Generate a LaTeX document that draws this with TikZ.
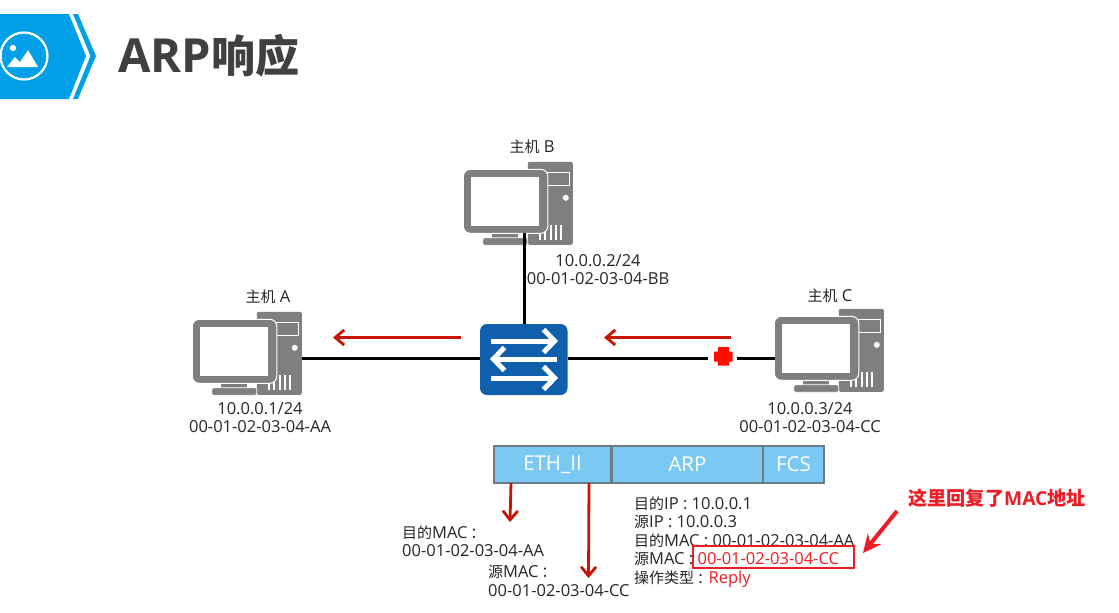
\documentclass[tikz,border=0pt]{standalone}
\usepackage{fontspec}
\setmainfont{Open Sans}
\newfontfamily\cjk{Noto Sans CJK SC}
\usetikzlibrary{arrows.meta}
\newcommand{\zh}[1]{{\fontsize{15}{18.5}\selectfont\cjk #1}}
\definecolor{pcgray}{HTML}{7F7F7F}
\definecolor{headblue}{HTML}{00A0E9}
\definecolor{swblue}{HTML}{0F5FAD}
\definecolor{flowred}{HTML}{C81400}
\definecolor{notered}{HTML}{EE1C25}
\definecolor{barblue}{HTML}{7AC9F2}
\definecolor{bargray}{HTML}{6E7A84}
\tikzset{
  x=1pt,y=-1pt,
  txt/.style={inner sep=0pt,font=\fontsize{16.5}{18.5}\selectfont,text=black!85},
  hostname/.style={inner sep=0pt,font=\fontsize{16.5}{18}\selectfont,text=black!85},
  hostbox/.style={inner sep=0pt,minimum width=109pt,minimum height=83pt},
  link/.style={draw=black,line width=3pt},
  flow/.style={draw=flowred,line width=2.8pt,-{Straight Barb[length=9pt,width=15pt,line width=2.8pt]}},
  swarrow/.style={draw=white,line width=5pt,-{Straight Barb[length=11pt,width=23pt,line width=5pt]}},
  field/.style={draw=bargray,line width=2pt,fill=barblue,inner sep=0pt,minimum height=37pt,
                text=white,font=\fontsize{20.5}{24}\selectfont},
  pcicon/.pic={
    \fill[pcgray,rounded corners=2pt] (64,0) rectangle (109,83);
    \draw[white,line width=1pt] (84,11) rectangle (106,24);
    \fill[white] (102,36) circle (3);
    \foreach \vx/\vy in {76/70,81/68,87/63,92/63,97/63}
      \draw[white,line width=1.5pt] (\vx,\vy) -- (\vx,78);
    \fill[pcgray] (28,70) rectangle (54,77);
    \fill[pcgray,draw=white,line width=.7pt,rounded corners=1.5pt] (19,76) rectangle (64,83.5);
    \draw[white,line width=1pt,fill=pcgray,rounded corners=7pt] (-.5,7.5) rectangle (84,71.5);
    \fill[white] (7,15) rectangle (75,64);
  }
}
\begin{document}
\begin{tikzpicture}
\useasboundingbox (0,0) rectangle (1119,613);
\fill[white] (0,0) rectangle (1119,613);

% Title banner with picture badge
\fill[headblue] (0,14) -- (69,14) -- (86,56) -- (69,99) -- (0,99) -- cycle;
\fill[headblue] (73,14) -- (78,14) -- (96,56) -- (78,99) -- (73,99) -- (90.5,56) -- cycle;
\draw[white,line width=2.2pt] (24,56) circle (23.5);
\fill[white] (13,48) circle (3.2);
\fill[white] (7,67) -- (15,57) -- (20,62) -- (28,50) -- (38,67) -- cycle;
\node[anchor=base west,inner sep=0pt,text=black!75,font=\bfseries\fontsize{47}{50}\selectfont] (title)
  at (118,72) {ARP{\fontsize{44}{50}\selectfont\cjk 响应}};

% Hosts
\node[hostbox] (hostA) at (247.5,353.5) {};
\node[hostbox] (hostB) at (518.5,203.5) {};
\node[hostbox] (hostC) at (829.5,350.5) {};
\pic at (hostA.north west) {pcicon};
\pic at (hostB.north west) {pcicon};
\pic at (hostC.north west) {pcicon};

% Switch
\node[fill=swblue,rounded corners=7pt,inner sep=0pt,minimum width=87.5pt,minimum height=71pt] (sw) at (523.75,359.5) {};
\coordinate (swAl) at (491,341); \coordinate (swAr) at (558,341);
\coordinate (swBl) at (490,359); \coordinate (swBr) at (557,359);
\coordinate (swCl) at (491,378); \coordinate (swCr) at (558,378);
\draw[swarrow] (swAl) -- (swAr);
\draw[swarrow] (swBr) -- (swBl);
\draw[swarrow] (swCl) -- (swCr);

% Links
\coordinate (portB) at (524.5,233);
\node[inner sep=0pt,minimum width=28pt,minimum height=6pt] (mark) at (722.5,358.5) {};
\draw[link] (sw.west |- 0,358.5) -- (hostA.east |- 0,358.5);
\draw[link] (portB |- sw.north) -- (portB);
\draw[link] (sw.east |- mark.west) -- (mark.west);
\draw[link] (mark.east) -- (hostC.west |- mark.east);
\fill[red!90!orange]
  (718,347) -- (729,347) -- (729,351.5) -- (732.5,351.5) -- (732.5,361.5) -- (729,361.5) -- (729,365.5)
  -- (718,365.5) -- (718,361.5) -- (714,361.5) -- (714,351.5) -- (718,351.5) -- cycle;

% Traffic direction
\coordinate (flowAs) at (461,337.5); \coordinate (flowAe) at (333,337.5);
\coordinate (flowCs) at (731,337.5); \coordinate (flowCe) at (604,337.5);
\draw[flow] (flowAs) -- (flowAe);
\draw[flow] (flowCs) -- (flowCe);

% Host labels
\node[hostname] (nameA) at (268,297) {\zh{主机} A};
\node[hostname] (nameB) at (532,147) {\zh{主机} B};
\node[hostname] (nameC) at (830,296) {\zh{主机} C};
\node[txt] (ipA) at (260,408.5) {10.0.0.1/24};
\node[txt] (macA) at (260,426.5) {00-01-02-03-04-AA};
\node[txt] (ipB) at (598,260.5) {10.0.0.2/24};
\node[txt] (macB) at (598,278.5) {00-01-02-03-04-BB};
\node[txt] (ipC) at (810,408.5) {10.0.0.3/24};
\node[txt] (macC) at (810,426.5) {00-01-02-03-04-CC};

% Frame layout
\node[field,minimum width=117.5pt] (eth) at (552.5,464.5) {ETH\_II};
\node[field,minimum width=152pt] (arp) at (687.5,464.5) {ARP};
\node[field,minimum width=60.5pt] (fcs) at (793.5,464.5) {FCS};

% Ethernet header fields
\coordinate (dstTip) at (510,522);
\coordinate (srcTip) at (588.5,578);
\draw[flow] (511,483) -- (dstTip);
\draw[flow] (589,483) -- (srcTip);
\node[txt,anchor=north west,align=left] (dst) at (402,525.5) {\zh{目的}MAC\,\zh{：}\\00-01-02-03-04-AA};
\node[txt,anchor=north west,align=left] (src) at (488,565) {\zh{源}MAC\,\zh{：}\\00-01-02-03-04-CC};

% ARP payload fields
\node[txt,anchor=north west,align=left] (fields) at (634,496.5)
  {\zh{目的}IP : 10.0.0.1\\
   \zh{源}IP : 10.0.0.3\\
   \zh{目的}MAC : 00-01-02-03-04-AA\\
   \zh{源}MAC : \textcolor{notered}{00-01-02-03-04-CC}\\
   \zh{操作类型} : \textcolor{notered}{Reply}};
\node[draw=notered,line width=1.8pt,inner sep=0pt,minimum width=161pt,minimum height=22pt] (hl) at (773.5,557) {};

% Callout
\node[inner sep=0pt,text=notered,font=\bfseries\fontsize{19.2}{22}\selectfont] (note) at (997,498.5) {{\cjk 这里回复了}MAC{\cjk 地址}};
\coordinate (noteS) at (897,511);
\coordinate (noteE) at (863,553);
\draw[notered,line width=4pt,-{Stealth[length=18pt,width=17pt]}] (noteS) -- (noteE);
\end{tikzpicture}
\end{document}
